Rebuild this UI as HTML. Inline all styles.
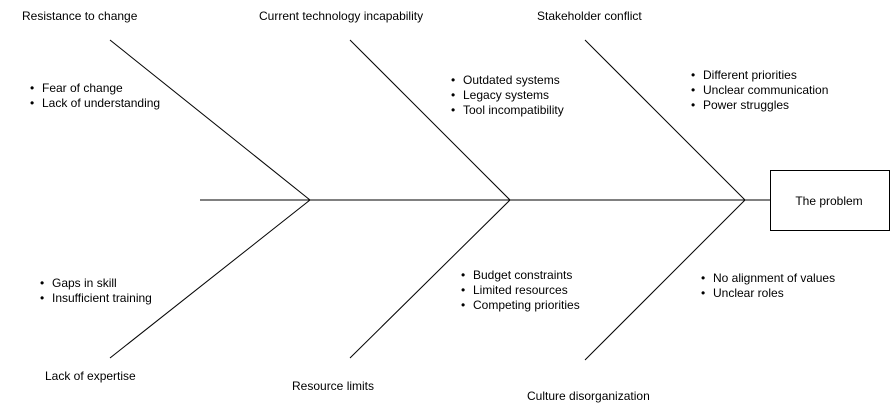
<!DOCTYPE html>
<html><head><style>body{margin:0;background:#fff}svg{display:block}text{font-family:"Liberation Sans",Arial,sans-serif;font-size:12px;fill:#000}</style></head><body>
<svg width="891" height="410" viewBox="0 0 891 410" xmlns="http://www.w3.org/2000/svg">
<g stroke="#000" stroke-width="1" fill="none">
<line x1="200" y1="200" x2="770" y2="200"/>
<line x1="110" y1="40" x2="310" y2="200"/>
<line x1="350" y1="40" x2="510" y2="200"/>
<line x1="585" y1="40" x2="745" y2="200"/>
<line x1="110" y1="358" x2="310" y2="200"/>
<line x1="350" y1="358" x2="510" y2="200"/>
<line x1="585" y1="360" x2="745" y2="200"/>
<rect x="770.5" y="170.5" width="119" height="60"/>
</g>
<text x="829" y="205" text-anchor="middle">The problem</text>
<text x="22" y="20">Resistance to change</text>
<text x="259" y="20">Current technology incapability</text>
<text x="537" y="20">Stakeholder conflict</text>
<text x="45" y="380">Lack of expertise</text>
<text x="292" y="390">Resource limits</text>
<text x="527" y="400">Culture disorganization</text>
<g>
<text x="30" y="92">•</text><text x="42" y="92">Fear of change</text>
<text x="30" y="107">•</text><text x="42" y="107">Lack of understanding</text>
<text x="451" y="84">•</text><text x="463" y="84">Outdated systems</text>
<text x="451" y="99">•</text><text x="463" y="99">Legacy systems</text>
<text x="451" y="114">•</text><text x="463" y="114">Tool incompatibility</text>
<text x="691" y="79">•</text><text x="703" y="79">Different priorities</text>
<text x="691" y="94">•</text><text x="703" y="94">Unclear communication</text>
<text x="691" y="109">•</text><text x="703" y="109">Power struggles</text>
<text x="40" y="287">•</text><text x="52" y="287">Gaps in skill</text>
<text x="40" y="302">•</text><text x="52" y="302">Insufficient training</text>
<text x="461" y="279">•</text><text x="473" y="279">Budget constraints</text>
<text x="461" y="294">•</text><text x="473" y="294">Limited resources</text>
<text x="461" y="309">•</text><text x="473" y="309">Competing priorities</text>
<text x="701" y="282">•</text><text x="713" y="282">No alignment of values</text>
<text x="701" y="297">•</text><text x="713" y="297">Unclear roles</text>
</g>
</svg>
</body></html>
